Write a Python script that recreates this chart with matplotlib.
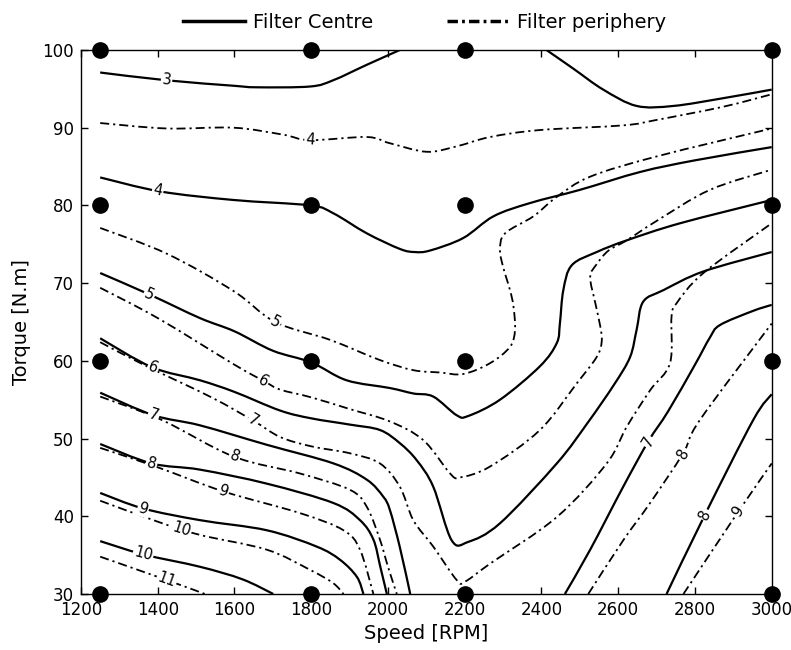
import numpy as np
import matplotlib
matplotlib.use('Agg')
import matplotlib.pyplot as plt
from matplotlib.lines import Line2D
from matplotlib.path import Path
from matplotlib.patches import PathPatch

# measurement grid (black dots)
point_speed = [1250, 1800, 2200, 3000]
point_torque = [30, 60, 80, 100]

# contour lines as (speed rpm, torque N.m)
# filter centre -> solid lines
centre_3a = [(1250, 97.1), (1423, 96.1), (1597, 95.4), (1658, 95.2), (1797, 95.3),
             (1857, 96.1), (1945, 98.1), (2031, 100.0)]
centre_3b = [(2413, 100.0), (2483, 97.6), (2561, 94.9), (2648, 92.8), (2744, 92.8),
             (2874, 93.8), (3000, 94.9)]
centre_4 = [(1250, 83.6), (1406, 81.8), (1597, 80.7), (1797, 80.0), (1857, 79.0),
            (1945, 76.4), (2031, 74.4), (2070, 74.0), (2110, 74.2), (2196, 75.8),
            (2275, 78.6), (2370, 80.3), (2500, 82.0), (2657, 84.3), (2800, 85.8),
            (3000, 87.5)]
centre_5 = [(1250, 71.3), (1380, 68.5), (1510, 65.5), (1600, 63.8), (1700, 61.3),
            (1800, 59.8), (1892, 57.5), (2005, 56.5), (2066, 55.8), (2118, 55.4),
            (2179, 53.0), (2209, 52.9), (2292, 55.0), (2396, 59.3), (2440, 62.3),
            (2448, 64.8), (2457, 69.1), (2479, 72.3), (2544, 74.0), (2622, 75.5),
            (2761, 77.7), (3000, 80.7)]
centre_6 = [(1250, 62.9), (1384, 59.2), (1510, 57.5), (1600, 56.0), (1719, 53.6),
            (1800, 52.6), (1900, 51.8), (1979, 51.1), (2031, 49.4), (2075, 47.2),
            (2118, 43.8), (2166, 36.9), (2209, 36.7), (2292, 39.1), (2440, 46.8),
            (2520, 52.0), (2590, 57.0), (2631, 60.5), (2648, 64.0), (2665, 67.6),
            (2718, 69.1), (2822, 71.5), (3000, 74.0)]
centre_7a = [(1250, 55.9), (1389, 53.0), (1510, 51.7), (1684, 49.2), (1858, 46.8),
             (1945, 44.7), (1988, 42.5), (2005, 40.8), (2031, 36.0), (2058, 30.0)]
centre_7b = [(2461, 30.0), (2527, 35.7), (2613, 43.8), (2678, 49.6), (2730, 53.5),
             (2800, 59.5), (2839, 63.0), (2865, 64.6), (2950, 66.4), (3000, 67.2)]
centre_8a = [(1250, 49.3), (1384, 46.8), (1510, 46.0), (1684, 44.2), (1858, 41.7),
             (1927, 39.5), (1962, 37.0), (1980, 33.5), (1997, 30.0)]
centre_8b = [(2726, 30.0), (2826, 40.2), (2952, 52.4), (3000, 55.7)]
centre_9 = [(1250, 43.0), (1362, 41.0), (1510, 39.5), (1684, 38.2), (1814, 36.1),
            (1875, 34.4), (1919, 32.2), (1936, 30.0)]
centre_10 = [(1250, 36.8), (1362, 35.1), (1510, 33.5), (1620, 31.9), (1701, 30.0)]

# filter periphery -> dash-dot lines
peri_4 = [(1250, 90.6), (1423, 89.9), (1597, 90.0), (1727, 89.1), (1797, 88.4),
          (1945, 88.8), (2005, 88.0), (2101, 86.9), (2179, 87.6), (2266, 88.8),
          (2396, 89.7), (2613, 90.3), (2700, 91.0), (2874, 92.7), (3000, 94.3)]
peri_5 = [(1250, 77.1), (1423, 73.8), (1597, 69.0), (1706, 65.0), (1849, 62.7),
          (1979, 60.1), (2066, 58.8), (2136, 58.5), (2196, 58.3), (2266, 59.7),
          (2318, 61.8), (2331, 64.0), (2327, 67.0), (2318, 69.1), (2300, 72.1),
          (2292, 74.3), (2305, 76.4), (2379, 78.6), (2440, 81.1), (2527, 83.7),
          (2700, 86.3), (3000, 89.9)]
peri_6 = [(1250, 69.4), (1400, 65.5), (1600, 59.5), (1680, 57.3), (1719, 56.3),
          (1800, 55.3), (1900, 53.8), (2005, 52.2), (2092, 49.8), (2162, 45.5),
          (2188, 45.0), (2266, 46.4), (2396, 51.1), (2492, 57.1), (2544, 60.5),
          (2557, 62.5), (2553, 64.5), (2540, 67.5), (2527, 70.8), (2545, 72.5),
          (2575, 74.2), (2622, 75.5), (2700, 78.0), (2839, 82.0), (3000, 84.6)]
peri_7 = [(1250, 62.4), (1367, 59.4), (1540, 55.3), (1649, 52.3), (1719, 50.2),
          (1800, 49.0), (1901, 48.1), (1979, 46.8), (2031, 43.8), (2066, 39.5),
          (2118, 36.1), (2179, 31.8), (2201, 31.6), (2266, 33.9), (2440, 39.9),
          (2570, 46.8), (2622, 51.5), (2683, 56.2), (2735, 59.7), (2739, 65.7),
          (2752, 67.4), (2822, 71.3), (3000, 77.7)]
peri_8a = [(1250, 55.4), (1410, 52.4), (1597, 47.7), (1771, 45.5), (1901, 43.4),
           (1945, 41.2), (1979, 37.0), (2000, 33.5), (2023, 30.0)]
peri_8b = [(2522, 30.0), (2613, 36.9), (2683, 41.7), (2769, 48.1), (2813, 52.4),
           (3000, 64.8)]
peri_9a = [(1250, 48.8), (1400, 46.3), (1571, 43.2), (1771, 40.4), (1884, 38.2),
           (1927, 35.7), (1962, 30.0)]
peri_9b = [(2770, 30.0), (2913, 40.6), (3000, 46.8)]
peri_10 = [(1250, 42.0), (1400, 39.3), (1510, 37.6), (1684, 35.7), (1797, 33.1),
           (1857, 31.4), (1884, 30.0)]
peri_11 = [(1250, 34.8), (1423, 31.8), (1523, 30.0)]

centre_lines = [centre_3a, centre_3b, centre_4, centre_5, centre_6, centre_7a,
                centre_7b, centre_8a, centre_8b, centre_9, centre_10]
peri_lines = [peri_4, peri_5, peri_6, peri_7, peri_8a, peri_8b, peri_9a, peri_9b,
              peri_10, peri_11]

# contour labels: (line, text, speed where the label sits)
centre_labels = [(centre_3a, '3', 1423), (centre_4, '4', 1400), (centre_5, '5', 1378),
                 (centre_6, '6', 1388), (centre_7a, '7', 1389), (centre_8a, '8', 1384),
                 (centre_9, '9', 1362), (centre_10, '10', 1362), (centre_7b, '7', 2678),
                 (centre_8b, '8', 2826)]
peri_labels = [(peri_4, '4', 1797), (peri_5, '5', 1706), (peri_6, '6', 1675),
               (peri_7, '7', 1649), (peri_8a, '8', 1600), (peri_9a, '9', 1571),
               (peri_10, '10', 1462), (peri_11, '11', 1423), (peri_8b, '8', 2769),
               (peri_9b, '9', 2913)]

DASHDOT = (0, (5, 2.2, 1.2, 2.2))


def smooth_path(pts):
    # catmull-rom through the read points, drawn as cubic bezier pieces
    P = np.array(pts, float)
    verts = [P[0]]
    codes = [Path.MOVETO]
    n = len(P)
    for i in range(n - 1):
        p0 = P[i - 1] if i > 0 else P[i]
        p1, p2 = P[i], P[i + 1]
        p3 = P[i + 2] if i + 2 < n else P[i + 1]
        verts += [p1 + (p2 - p0) / 6.0, p2 - (p3 - p1) / 6.0, p2]
        codes += [Path.CURVE4] * 3
    return Path(verts, codes)


fig = plt.figure(figsize=(7.91, 6.5), dpi=100)
ax = fig.add_axes([0.1024, 0.0862, 0.8732, 0.8369])
ax.set_xlim(1200, 3000)
ax.set_ylim(30, 100)

for pts in centre_lines:
    ax.add_patch(PathPatch(smooth_path(pts), fill=False, ec='black', lw=1.6,
                           zorder=2))
for pts in peri_lines:
    ax.add_patch(PathPatch(smooth_path(pts), fill=False, ec='black', lw=1.3,
                           linestyle=DASHDOT, zorder=2))


def on_line(pts, x):
    # first segment of the line that covers x
    for (s0, t0), (s1, t1) in zip(pts[:-1], pts[1:]):
        if s0 <= x <= s1 and s1 > s0:
            return t0 + (x - s0) / (s1 - s0) * (t1 - t0)
    return pts[-1][1]


def put_label(pts, text, x):
    y = on_line(pts, x)
    lo = max(x - 40, pts[0][0])
    hi = min(x + 40, pts[-1][0])
    p0 = ax.transData.transform((lo, on_line(pts, lo)))
    p1 = ax.transData.transform((hi, on_line(pts, hi)))
    ang = np.degrees(np.arctan2(p1[1] - p0[1], p1[0] - p0[0]))
    if ang > 90:
        ang -= 180
    elif ang < -90:
        ang += 180
    ax.text(x, y, text, rotation=ang, rotation_mode='anchor', ha='center',
            va='center', fontsize=10.5, zorder=3,
            bbox=dict(boxstyle='square,pad=0.08', fc='white', ec='none'))


for pts, txt, x in centre_labels + peri_labels:
    put_label(pts, txt, x)

# measurement points
gx, gy = np.meshgrid(point_speed, point_torque)
ax.plot(gx.ravel(), gy.ravel(), 'o', color='black', ms=11, clip_on=False, zorder=5)

ax.set_xticks(np.arange(1200, 3001, 200))
ax.set_yticks(np.arange(30, 101, 10))
ax.tick_params(direction='in', top=True, right=True, labelsize=12, length=5,
               width=1, pad=5)
for sp in ax.spines.values():
    sp.set_linewidth(1)
ax.set_xlabel('Speed [RPM]', fontsize=14, labelpad=4)
ax.set_ylabel('Torque [N.m]', fontsize=14, labelpad=8)

handles = [Line2D([], [], color='black', lw=2.5),
           Line2D([], [], color='black', lw=2.5, linestyle=(0, (3, 1.2, 0.8, 1.2)))]
fig.legend(handles, ['Filter Centre', 'Filter periphery'], loc='center',
           bbox_to_anchor=(0.537, 0.966), ncol=2, frameon=False, fontsize=14,
           handlelength=3.2, handletextpad=0.4, columnspacing=3.8)

fig.savefig('out.png', dpi=100)
